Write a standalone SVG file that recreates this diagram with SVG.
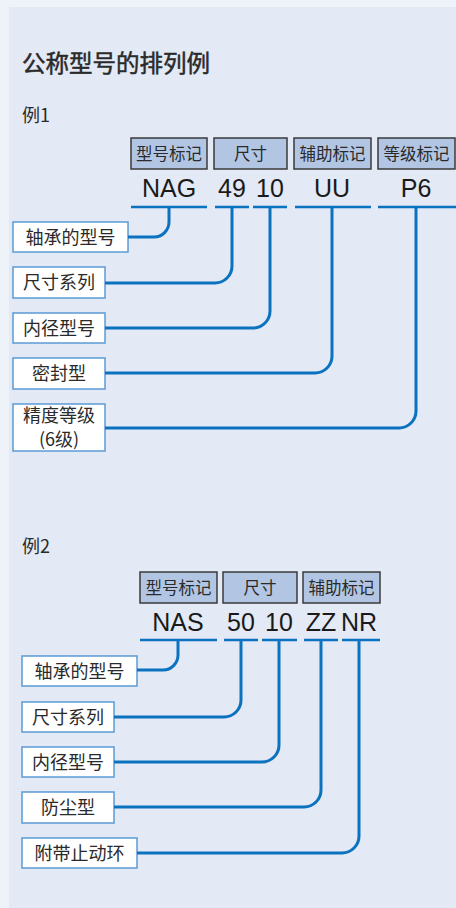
<svg xmlns="http://www.w3.org/2000/svg" width="456" height="908" viewBox="0 0 456 908">
<style>
.cjk{font-family:"Noto Sans CJK SC","Liberation Sans",sans-serif;fill:#2a2a2a}
.code{font-family:"Liberation Sans","Noto Sans CJK SC",sans-serif;font-size:25px;fill:#1a1a1a;text-anchor:middle}
.hdr rect{fill:#b2c6e4;stroke:#3a3a3a;stroke-width:1.5}
.hdr text{font-family:"Noto Sans CJK SC",sans-serif;font-size:16.5px;fill:#2a2a2a;text-anchor:middle}
.lbl rect{fill:#ffffff;stroke:#5b9bd5;stroke-width:1.5}
.lbl text{font-family:"Noto Sans CJK SC","Liberation Sans",sans-serif;font-size:18px;fill:#2a2a2a;text-anchor:middle}
.bar{stroke:#0b72bf;stroke-width:2.5;fill:none}
.con{stroke:#0b72bf;stroke-width:3;fill:none}
</style>
<rect x="0" y="0" width="456" height="908" fill="#eef3f9"/>
<rect x="9" y="7" width="447" height="901" fill="#e3e9f5"/>
<text class="cjk" x="22" y="72" font-size="23.5" stroke="#2a2a2a" stroke-width="0.5">公称型号的排列例</text>
<text class="cjk" x="22" y="122" font-size="18">例1</text>
<text class="cjk" x="22" y="553" font-size="18">例2</text>

<!-- Example 1 headers -->
<g id="ex1-headers" class="hdr">
<g id="h1-1"><rect x="131" y="138" width="76" height="31"/><text x="169" y="159.5">型号标记</text></g>
<g id="h1-2"><rect x="214" y="138" width="73" height="31"/><text x="250.5" y="159.5">尺寸</text></g>
<g id="h1-3"><rect x="294" y="138" width="77" height="31"/><text x="332.5" y="159.5">辅助标记</text></g>
<g id="h1-4"><rect x="378" y="138" width="77" height="31"/><text x="416.5" y="159.5">等级标记</text></g>
</g>
<g id="ex1-codes">
<text class="code" x="169" y="197">NAG</text>
<text class="code" x="232" y="197">49</text>
<text class="code" x="270" y="197">10</text>
<text class="code" x="332" y="197">UU</text>
<text class="code" x="416" y="197">P6</text>
</g>

<!-- Example 1 labels -->
<g id="l1-1" class="lbl"><rect x="13" y="222" width="115" height="30"/><text x="70.5" y="243.5">轴承的型号</text></g>
<g id="l1-2" class="lbl"><rect x="13" y="267" width="92" height="31"/><text x="59" y="289">尺寸系列</text></g>
<g id="l1-3" class="lbl"><rect x="13" y="313" width="92" height="30"/><text x="59" y="334.5">内径型号</text></g>
<g id="l1-4" class="lbl"><rect x="13" y="358" width="92" height="31"/><text x="59" y="380">密封型</text></g>
<g id="l1-5" class="lbl"><rect x="13" y="404" width="92" height="47"/><text x="59" y="422" font-size="17">精度等级</text><text x="59" y="446" font-size="17">(6级)</text></g>

<!-- Example 2 headers -->
<g id="ex2-headers" class="hdr">
<g id="h2-1"><rect x="140" y="572" width="77" height="31"/><text x="178.5" y="593.5">型号标记</text></g>
<g id="h2-2"><rect x="223" y="572" width="74" height="31"/><text x="260" y="593.5">尺寸</text></g>
<g id="h2-3"><rect x="303" y="572" width="77" height="31"/><text x="341.5" y="593.5">辅助标记</text></g>
</g>
<g id="ex2-codes">
<text class="code" x="178" y="631">NAS</text>
<text class="code" x="241" y="631">50</text>
<text class="code" x="279" y="631">10</text>
<text class="code" x="321" y="631">ZZ</text>
<text class="code" x="359" y="631">NR</text>
</g>

<!-- Example 2 labels -->
<g id="l2-1" class="lbl"><rect x="22" y="656" width="115" height="30"/><text x="79.5" y="677.5">轴承的型号</text></g>
<g id="l2-2" class="lbl"><rect x="22" y="702" width="92" height="30"/><text x="68" y="723.5">尺寸系列</text></g>
<g id="l2-3" class="lbl"><rect x="22" y="747" width="92" height="30"/><text x="68" y="768.5">内径型号</text></g>
<g id="l2-4" class="lbl"><rect x="22" y="792" width="92" height="31"/><text x="68" y="814">防尘型</text></g>
<g id="l2-5" class="lbl"><rect x="22" y="838" width="115" height="30"/><text x="79.5" y="859.5">附带止动环</text></g>

<g id="connectors">
<!-- example 1 bars -->
<path class="bar" d="M131 207H207 M215 207H249 M253 207H287 M295 207H371 M378 207H456"/>
<path class="con" d="M169 207V222A15 15 0 0 1 154 237H128"/>
<path class="con" d="M232 207V266A17 17 0 0 1 215 283H105"/>
<path class="con" d="M270 207V311A17 17 0 0 1 253 328H105"/>
<path class="con" d="M332 207V356A17 17 0 0 1 315 373H105"/>
<path class="con" d="M416 207V411A17 17 0 0 1 399 428H105"/>
<!-- example 2 bars -->
<path class="bar" d="M140 640H217 M224 640H258 M262 640H297 M304 640H338 M342 640H380"/>
<path class="con" d="M178 640V655A15 15 0 0 1 163 670H137"/>
<path class="con" d="M241 640V700A17 17 0 0 1 224 717H114"/>
<path class="con" d="M279 640V745A17 17 0 0 1 262 762H114"/>
<path class="con" d="M321 640V790A17 17 0 0 1 304 807H114"/>
<path class="con" d="M359 640V836A17 17 0 0 1 342 853H137"/>
</g>
</svg>
